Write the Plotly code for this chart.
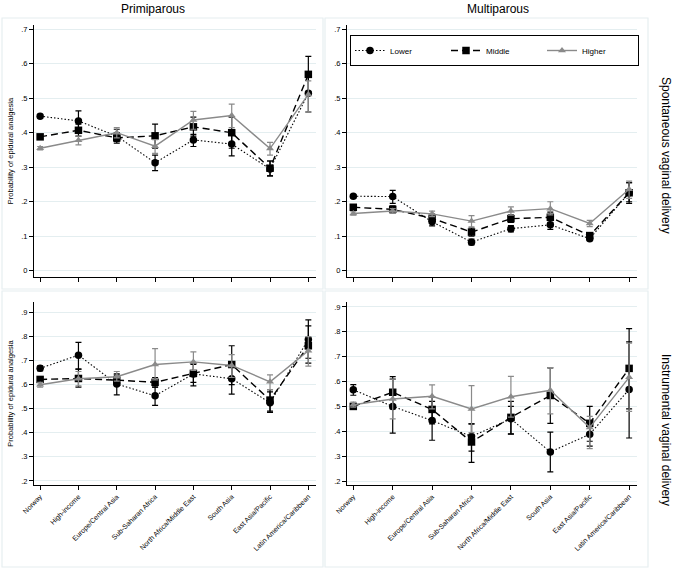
import plotly.graph_objects as go

W, H = 685, 570

categories = ["Norway", "High-income", "Europe/Central Asia", "Sub-Saharan Africa",
              "North Africa/Middle East", "South Asia", "East Asia/Pacific",
              "Latin America/Caribbean"]
series_names = ["Lower", "Middle", "Higher"]
col_titles = ["Primiparous", "Multiparous"]
row_titles = ["Spontaneous vaginal delivery", "Instrumental vaginal delivery"]
y_title = "Probability of epidural analgesia"

top_tickvals = [0, 0.1, 0.2, 0.3, 0.4, 0.5, 0.6, 0.7]
top_ticktext = ["0", ".1", ".2", ".3", ".4", ".5", ".6", ".7"]
bot_tickvals = [0.2, 0.3, 0.4, 0.5, 0.6, 0.7, 0.8, 0.9]
bot_ticktext = [".2", ".3", ".4", ".5", ".6", ".7", ".8", ".9"]

# Primiparous, spontaneous
ps_lower = [0.448, 0.434, 0.390, 0.313, 0.379, 0.367, 0.295, 0.514]
ps_lower_lo = [0.443, 0.405, 0.375, 0.290, 0.360, 0.333, 0.275, 0.460]
ps_lower_hi = [0.453, 0.463, 0.410, 0.335, 0.395, 0.400, 0.318, 0.560]
ps_middle = [0.388, 0.407, 0.385, 0.391, 0.417, 0.400, 0.297, 0.569]
ps_middle_lo = [0.383, 0.390, 0.370, 0.355, 0.390, 0.355, 0.275, 0.520]
ps_middle_hi = [0.393, 0.425, 0.400, 0.425, 0.445, 0.445, 0.318, 0.621]
ps_higher = [0.355, 0.378, 0.400, 0.361, 0.437, 0.450, 0.354, 0.511]
ps_higher_lo = [0.350, 0.365, 0.385, 0.340, 0.410, 0.415, 0.335, 0.460]
ps_higher_hi = [0.360, 0.390, 0.415, 0.380, 0.462, 0.483, 0.372, 0.550]

# Multiparous, spontaneous
ms_lower = [0.216, 0.215, 0.142, 0.083, 0.122, 0.133, 0.093, 0.226]
ms_lower_lo = [0.211, 0.195, 0.130, 0.075, 0.113, 0.120, 0.087, 0.195]
ms_lower_hi = [0.221, 0.233, 0.155, 0.092, 0.131, 0.146, 0.100, 0.255]
ms_middle = [0.184, 0.178, 0.152, 0.112, 0.151, 0.155, 0.102, 0.226]
ms_middle_lo = [0.179, 0.168, 0.140, 0.100, 0.140, 0.140, 0.095, 0.200]
ms_middle_hi = [0.189, 0.188, 0.164, 0.124, 0.162, 0.170, 0.110, 0.255]
ms_higher = [0.166, 0.173, 0.165, 0.144, 0.173, 0.180, 0.137, 0.236]
ms_higher_lo = [0.161, 0.166, 0.157, 0.127, 0.161, 0.162, 0.128, 0.210]
ms_higher_hi = [0.171, 0.180, 0.173, 0.160, 0.185, 0.200, 0.146, 0.260]

# Primiparous, instrumental
pi_lower = [0.668, 0.723, 0.603, 0.554, 0.645, 0.625, 0.525, 0.788]
pi_lower_lo = [0.658, 0.665, 0.558, 0.514, 0.595, 0.561, 0.485, 0.710]
pi_lower_hi = [0.678, 0.776, 0.645, 0.590, 0.690, 0.690, 0.570, 0.870]
pi_middle = [0.622, 0.626, 0.619, 0.610, 0.647, 0.684, 0.536, 0.762]
pi_middle_lo = [0.612, 0.590, 0.600, 0.590, 0.610, 0.600, 0.490, 0.690]
pi_middle_hi = [0.632, 0.665, 0.640, 0.630, 0.685, 0.762, 0.580, 0.845]
pi_higher = [0.600, 0.625, 0.633, 0.684, 0.695, 0.680, 0.612, 0.741]
pi_higher_lo = [0.590, 0.595, 0.615, 0.620, 0.660, 0.630, 0.580, 0.677]
pi_higher_hi = [0.610, 0.655, 0.655, 0.750, 0.737, 0.725, 0.641, 0.800]

# Multiparous, instrumental
mi_lower = [0.567, 0.500, 0.443, 0.379, 0.450, 0.317, 0.388, 0.568]
mi_lower_lo = [0.545, 0.393, 0.364, 0.320, 0.390, 0.237, 0.340, 0.373]
mi_lower_hi = [0.588, 0.610, 0.520, 0.430, 0.500, 0.397, 0.430, 0.760]
mi_middle = [0.500, 0.557, 0.488, 0.357, 0.456, 0.544, 0.432, 0.653]
mi_middle_lo = [0.490, 0.490, 0.430, 0.275, 0.389, 0.432, 0.360, 0.490]
mi_middle_hi = [0.510, 0.620, 0.540, 0.430, 0.520, 0.655, 0.500, 0.813]
mi_higher = [0.507, 0.530, 0.541, 0.490, 0.539, 0.565, 0.415, 0.617]
mi_higher_lo = [0.497, 0.450, 0.490, 0.395, 0.457, 0.470, 0.330, 0.480]
mi_higher_hi = [0.517, 0.610, 0.587, 0.584, 0.621, 0.656, 0.460, 0.755]

panels = [
    ("x", "y", [(ps_lower, ps_lower_lo, ps_lower_hi), (ps_middle, ps_middle_lo, ps_middle_hi), (ps_higher, ps_higher_lo, ps_higher_hi)]),
    ("x2", "y2", [(ms_lower, ms_lower_lo, ms_lower_hi), (ms_middle, ms_middle_lo, ms_middle_hi), (ms_higher, ms_higher_lo, ms_higher_hi)]),
    ("x3", "y3", [(pi_lower, pi_lower_lo, pi_lower_hi), (pi_middle, pi_middle_lo, pi_middle_hi), (pi_higher, pi_higher_lo, pi_higher_hi)]),
    ("x4", "y4", [(mi_lower, mi_lower_lo, mi_lower_hi), (mi_middle, mi_middle_lo, mi_middle_hi), (mi_higher, mi_higher_lo, mi_higher_hi)]),
]

GRAY = "#8a8a8a"
styles = [
    dict(color="black", dash="1.5px,2px", width=1.1, symbol="circle", size=7.5),
    dict(color="black", dash="7px,4px", width=1.4, symbol="square", size=7.5),
    dict(color=GRAY, dash="solid", width=1.4, symbol="triangle-up", size=7),
]

xs = list(range(len(categories)))
fig = go.Figure()
for pi, (xa, ya, series) in enumerate(panels):
    for si, (est, lo, hi) in enumerate(series):
        st = styles[si]
        fig.add_trace(go.Scatter(
            x=xs, y=est, xaxis=xa, yaxis=ya, mode="lines+markers",
            name=series_names[si], legendgroup=series_names[si], showlegend=(pi == 0),
            line=dict(color=st["color"], dash=st["dash"], width=st["width"]),
            marker=dict(color=st["color"], symbol=st["symbol"], size=st["size"]),
            error_y=dict(type="data", symmetric=False,
                         array=[h - e for h, e in zip(hi, est)],
                         arrayminus=[e - l for e, l in zip(est, lo)],
                         color=st["color"], thickness=1.2, width=3),
        ))

def px_x(p):
    return p / W

def px_y(p):
    return 1 - p / H

font = "Liberation Sans, Arial, sans-serif"
left_x = [px_x(34), px_x(316)]
right_x = [px_x(347), px_x(637)]
top_y = [px_y(277), px_y(25)]
bot_y = [px_y(485), px_y(302)]
xrange_ = [-0.16, 7.2]

common_x = dict(range=xrange_, tickvals=xs, showgrid=False, zeroline=False,
                showline=True, linecolor="black", linewidth=1, ticks="outside",
                ticklen=4, tickcolor="black", tickfont=dict(size=7, family=font, color="black"))
common_y = dict(showgrid=True, gridcolor="#e4eef0", gridwidth=1, zeroline=False,
                showline=True, linecolor="black", linewidth=1, ticks="outside",
                ticklen=4, tickcolor="black", tickfont=dict(size=7.5, family=font, color="black"))

fig.update_layout(
    width=W, height=H, autosize=False, margin=dict(l=0, r=0, t=0, b=0, autoexpand=False),
    paper_bgcolor="white", plot_bgcolor="white",
    font=dict(family=font, color="black"),
    xaxis=dict(domain=left_x, anchor="y", showticklabels=False, **common_x),
    xaxis2=dict(domain=right_x, anchor="y2", showticklabels=False, **common_x),
    xaxis3=dict(domain=left_x, anchor="y3", ticktext=categories, tickangle=-45, **common_x),
    xaxis4=dict(domain=right_x, anchor="y4", ticktext=categories, tickangle=-45, **common_x),
    yaxis=dict(domain=top_y, anchor="x", range=[-0.018, 0.712], tickvals=top_tickvals, ticktext=top_ticktext,
               title=dict(text=y_title, font=dict(size=7.5, family=font), standoff=6), **common_y),
    yaxis2=dict(domain=top_y, anchor="x2", range=[-0.018, 0.712], tickvals=top_tickvals, ticktext=top_ticktext, **common_y),
    yaxis3=dict(domain=bot_y, anchor="x3", range=[0.183, 0.944], tickvals=bot_tickvals, ticktext=bot_ticktext,
                title=dict(text=y_title, font=dict(size=7.5, family=font), standoff=6), **common_y),
    yaxis4=dict(domain=bot_y, anchor="x4", range=[0.184, 0.92], tickvals=bot_tickvals, ticktext=bot_ticktext, **common_y),
    legend=dict(orientation="h", x=px_x(350), y=px_y(35), xanchor="left", yanchor="top",
                bordercolor="black", borderwidth=1, bgcolor="white",
                font=dict(size=8, family=font), entrywidth=51, entrywidthmode="pixels",
                itemwidth=30, tracegroupgap=0),
    showlegend=True,
)

box_color = "#e6eef0"
boxes = [(2, 18, 323, 289), (325, 18, 648, 289), (2, 291, 323, 567), (325, 291, 648, 567)]
for (x0, y0, x1, y1) in boxes:
    fig.add_shape(type="rect", xref="paper", yref="paper",
                  x0=px_x(x0), x1=px_x(x1), y0=px_y(y1), y1=px_y(y0),
                  line=dict(color=box_color, width=1.2), fillcolor="rgba(0,0,0,0)", layer="below")

ann = dict(xref="paper", yref="paper", showarrow=False, xanchor="center", yanchor="middle")
fig.add_annotation(text=col_titles[0], x=px_x(153), y=px_y(9), font=dict(size=12, family=font), **ann)
fig.add_annotation(text=col_titles[1], x=px_x(498), y=px_y(9), font=dict(size=12, family=font), **ann)
fig.add_annotation(text=row_titles[0], x=px_x(666), y=px_y(155), textangle=90, font=dict(size=12, family=font), **ann)
fig.add_annotation(text=row_titles[1], x=px_x(666), y=px_y(430), textangle=90, font=dict(size=12, family=font), **ann)

fig.write_html("out.html", config={"displayModeBar": False},
               post_script="document.body.style.margin='0';")
